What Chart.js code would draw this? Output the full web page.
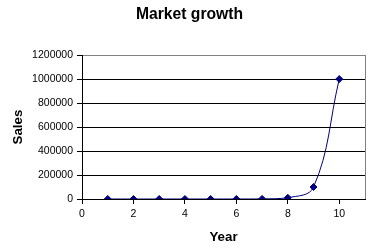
<!DOCTYPE html>
<html>
<head>
<meta charset="utf-8">
<script src="https://cdn.jsdelivr.net/npm/chart.js@4/dist/chart.umd.min.js"></script>
<style>
  html, body { margin: 0; padding: 0; background: #fff; }
  #wrap { width: 379px; height: 250px; }
</style>
</head>
<body>
<div id="wrap"><canvas id="growth_chart" width="379" height="250"></canvas></div>
<script>
var years = [1, 2, 3, 4, 5, 6, 7, 8, 9, 10];
var sales = [0.001, 0.01, 0.1, 1, 10, 100, 1000, 10000, 100000, 1000000];
var x_ticks = [0, 2, 4, 6, 8, 10, 11];

var font_family = "Arial, 'Liberation Sans', sans-serif";
var navy = "#000080";

var growth_data = {
    datasets: [{
        label: "Sales",
        data: years.map(function(y, i) { return { x: y, y: sales[i] }; }),
        borderColor: navy,
        backgroundColor: navy,
        borderWidth: 1,
        pointStyle: "rectRot",
        pointRadius: 3.5,
        pointBorderWidth: 1,
        tension: 0.4,
        fill: false
    }]
};

var growth_config = {
    type: "line",
    data: growth_data,
    options: {
        responsive: false,
        animation: false,
        layout: { padding: { left: 14, right: 14, top: 0, bottom: 0 } },
        plugins: {
            legend: { display: false },
            tooltip: { enabled: false },
            title: {
                display: true,
                text: "Market growth",
                color: "#000",
                font: { family: font_family, size: 15.7, weight: "bold" },
                padding: { top: 5, bottom: 31.2 }
            }
        },
        scales: {
            x: {
                type: "linear",
                min: 0,
                max: 11,
                afterBuildTicks: function(scale) {
                    scale.ticks = x_ticks.map(function(v) { return { value: v }; });
                },
                afterFit: function(scale) { scale.height = 51; },
                border: { display: true, color: "#000", width: 1 },
                grid: {
                    drawOnChartArea: true,
                    color: function(c) { return c.tick && c.tick.value === 11 ? "#808080" : "rgba(0,0,0,0)"; },
                    tickColor: function(c) { return c.tick && c.tick.value === 11 ? "rgba(0,0,0,0)" : "#000"; },
                    tickLength: 5
                },
                ticks: {
                    color: "#000",
                    padding: 4,
                    maxRotation: 0,
                    font: { family: font_family, size: 10.5 },
                    callback: function(v) { return v === 11 ? "" : v; }
                },
                title: {
                    display: true,
                    text: "Year",
                    color: "#000",
                    font: { family: font_family, size: 13.3, weight: "bold" },
                    padding: { top: 0, bottom: 5 }
                }
            },
            y: {
                min: 0,
                max: 1200000,
                afterFit: function(scale) { scale.width = 68; },
                border: { display: true, color: "#000", width: 1 },
                grid: {
                    color: function(c) { return c.tick && c.tick.value === 1200000 ? "#808080" : "#000"; },
                    tickColor: "#000",
                    tickLength: 5
                },
                ticks: {
                    stepSize: 200000,
                    color: "#000",
                    padding: 4,
                    font: { family: font_family, size: 10.5 },
                    callback: function(v) { return String(v); }
                },
                title: {
                    display: true,
                    text: "Sales",
                    color: "#000",
                    font: { family: font_family, size: 13.3, weight: "bold" },
                    padding: { top: -4, bottom: 0 }
                }
            }
        }
    }
};

var growth_chart = new Chart(document.getElementById("growth_chart").getContext("2d"), growth_config);
</script>
</body>
</html>
